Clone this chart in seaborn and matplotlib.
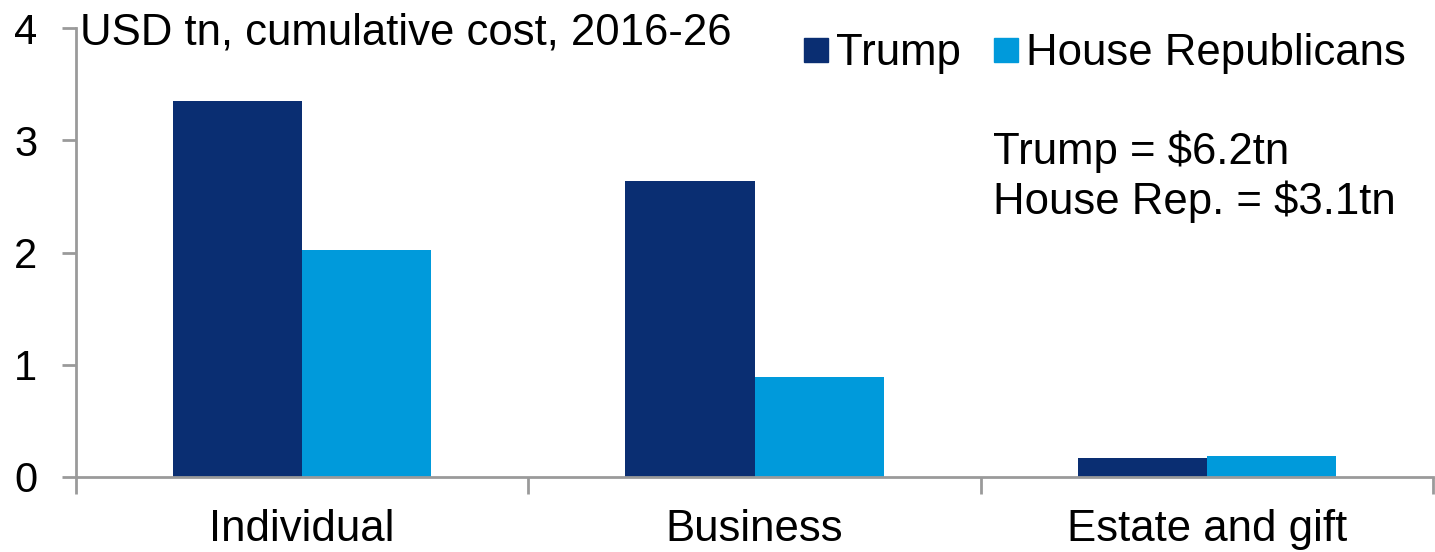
import matplotlib
matplotlib.use("Agg")
import matplotlib.pyplot as plt
from matplotlib.lines import Line2D
import seaborn as sns
import pandas as pd

# Cumulative cost of the tax plans, USD tn, 2016-26
categories = ["Individual", "Business", "Estate and gift"]
trump = [3.35, 2.64, 0.17]
house_republicans = [2.02, 0.89, 0.19]
series_names = ["Trump", "House Republicans"]
colors = ["#0A2E72", "#009ADB"]
y_ticks = [0, 1, 2, 3, 4]

df = pd.DataFrame({
    "category": categories * 2,
    "plan": [series_names[0]] * 3 + [series_names[1]] * 3,
    "value": trump + house_republicans,
})

sns.set_theme(style="white")
plt.rcParams["font.family"] = ["Liberation Sans", "DejaVu Sans"]
plt.rcParams["text.color"] = "black"
plt.rcParams["xtick.color"] = "black"
plt.rcParams["ytick.color"] = "black"

FS = 31.5

fig = plt.figure(figsize=(14.35, 5.52), dpi=100)
ax = fig.add_axes([76 / 1435, 1 - 477 / 552, (1433 - 76) / 1435, (477 - 28) / 552])

sns.barplot(data=df, x="category", y="value", hue="plan", order=categories,
            hue_order=series_names, palette=colors, saturation=1,
            width=0.571, linewidth=0, ax=ax, legend=False)

ax.set_xlim(-0.5, 2.5)
ax.set_ylim(0, 4)
ax.set_xlabel("")
ax.set_ylabel("")

axis_grey = "#9A9A9A"
for side in ["top", "right"]:
    ax.spines[side].set_visible(False)
for side in ["left", "bottom"]:
    ax.spines[side].set_color(axis_grey)
    ax.spines[side].set_linewidth(2)

# y axis: outward ticks
ax.set_yticks(y_ticks)
ax.set_yticklabels([str(t) for t in y_ticks])
ax.tick_params(axis="y", which="major", direction="out", length=10, width=2,
               color=axis_grey, labelcolor="black", pad=18, labelsize=30,
               left=True)

# x axis: tick marks between categories, labels at category centres
ax.set_xticks([-0.5, 0.5, 1.5, 2.5])
ax.set_xticklabels([])
ax.tick_params(axis="x", which="major", direction="out", length=12, width=2,
               color=axis_grey, bottom=True)
ax.set_xticks([0, 1, 2], minor=True)
ax.set_xticklabels(categories, minor=True)
ax.tick_params(axis="x", which="minor", length=0, pad=23, labelsize=FS,
               labelcolor="black")

fig.text(80 / 1435, 1 - 45 / 552, "USD tn, cumulative cost, 2016-26",
         fontsize=FS, ha="left", va="baseline", color="black")

handles = [Line2D([0], [0], marker="s", linestyle="", markersize=17,
                  markerfacecolor=c, markeredgecolor=c) for c in colors]
fig.legend(handles, series_names, loc="center right",
           bbox_to_anchor=(1406 / 1435, 1 - 54 / 552), ncol=2, frameon=False,
           fontsize=FS, handlelength=0.5, handletextpad=0.2, columnspacing=0.8,
           borderaxespad=0, borderpad=0)

fig.text(993 / 1435, 1 - 164 / 552, "Trump = $6.2tn", fontsize=FS,
         ha="left", va="baseline", color="black")
fig.text(993 / 1435, 1 - 214 / 552, "House Rep. = $3.1tn", fontsize=FS,
         ha="left", va="baseline", color="black")

fig.savefig("out.png", dpi=100)
